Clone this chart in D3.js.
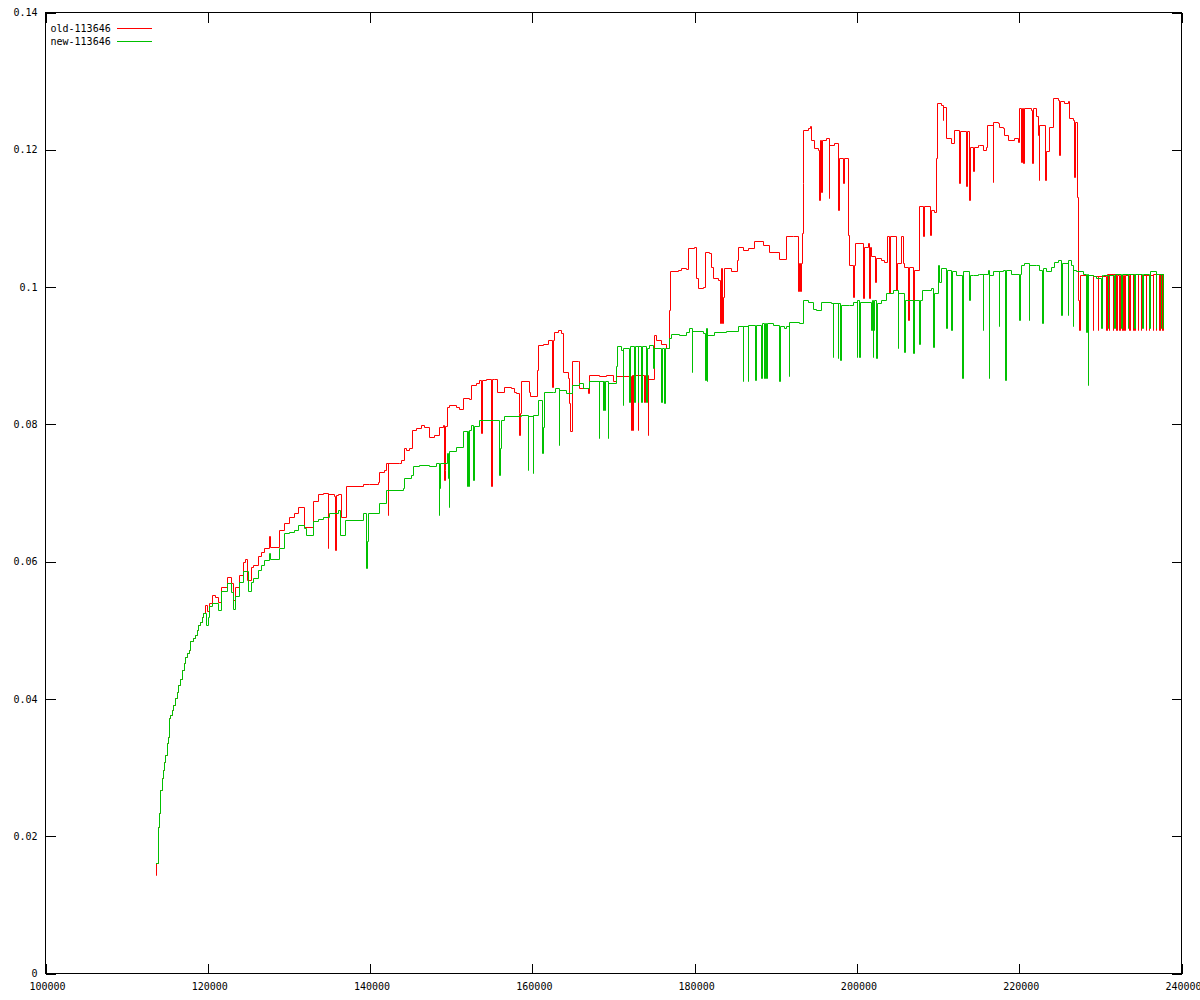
<!DOCTYPE html>
<html><head><meta charset="utf-8">
<script src="https://cdn.jsdelivr.net/npm/d3@7"></script>
<style>body{margin:0;background:#fff}svg{display:block}text{font-family:"DejaVu Sans Mono",monospace;font-size:10px;fill:#000}</style>
</head><body>
<svg id="c" width="1200" height="1000"></svg>
<script>
const seriesNames = ["old-113646", "new-113646"];
const seriesColors = ["#ff0000", "#00c000"];
const xTicks = [100000,120000,140000,160000,180000,200000,220000,240000];
const yTicks = [0,0.02,0.04,0.06,0.08,0.10,0.12,0.14];

const oldSeries = [
[113646,0.0143],[113700,0.0160],[113901,0.0213],[114024,0.0233],[114229,0.0267],[114394,0.0284],[114558,0.0296],[114681,0.0308],[114845,0.0318],[115010,0.0335],[115215,0.0344],[115297,0.0371],[115461,0.0376],[115626,0.0383],[115831,0.0391],[116036,0.0400],[116242,0.0410],[116447,0.0420],[116693,0.0429],[116899,0.0442],[117104,0.0451],[117310,0.0461],[117515,0.0466],[117720,0.0471],[117926,0.0483],[118213,0.0488],[118501,0.0493],[118706,0.0500],[118911,0.0507],[119117,0.0512],[119322,0.0519],
[119445,0.0524],[119774,0.0536],[119938,0.0527],[120267,0.0539],[120595,0.0551],[121006,0.0548],[121293,0.0541],[121704,0.0563],[122402,0.0577],[122936,0.0568],[123142,0.0544],[123429,0.0563],[123963,0.0580],[124456,0.0599],[124702,0.0603],[124907,0.0573],[125400,0.0592],[125606,0.0594],[126222,0.0607],[126633,0.0614],[127044,0.0619],[127577,0.0636],[127741,0.0621],[128891,0.0646],[129508,0.0655],[130123,0.0665],[130739,0.0670],[131150,0.0679],[131971,0.0650],[132998,0.0687],[133614,0.0698],[134230,0.0699],[134846,0.0619],[134929,0.0698],[135668,0.0695],[135791,0.0616],[135873,0.0696],[136079,0.0698],[136489,0.0665],[137105,0.0709],[139159,0.0713],[139978,0.0713],[141005,0.0716],[141210,0.0730],[141826,0.0733],[142032,0.0743],[142237,0.0667],[142319,0.0743],[143674,0.0743],[143880,0.0747],[144290,0.0765],[144496,0.0762],[144906,0.0765],[145235,0.0791],[145728,0.0794],[146344,0.0798],[146755,0.0796],[147371,0.0781],[147987,0.0784],[148603,0.0796],[149013,0.0798],[149137,0.0718],[149260,0.0733],[149342,0.0797],[149506,0.0825],[149835,0.0828],[150656,0.0824],[151067,0.0821],[151478,0.0837],[152299,0.0836],[152504,0.0857],[153120,0.0859],[153531,0.0864],[153736,0.0786],[153818,0.0864],[154352,0.0866],[154969,0.0709],[155051,0.0866],[155379,0.0865],[155667,0.0847],[156611,0.0854],[157433,0.0852],[157843,0.0847],[158049,0.0845],[158377,0.0816],[158460,0.0784],[158542,0.0816],[158665,0.0862],[159609,0.0847],[159774,0.0840],[160595,0.0879],[160718,0.0915],[161334,0.0917],[161950,0.0922],[162484,0.0854],[162566,0.0922],[162772,0.0934],[163183,0.0937],[163593,0.0932],[163799,0.0876],[164415,0.0867],[164620,0.0830],[164743,0.0789],[164907,0.0891],[165646,0.0892],[165852,0.0852],[166879,0.0845],[167002,0.0871],[168314,0.0870],[169135,0.0871],[169957,0.0862],[170368,0.0869],[172216,0.0791],[172298,0.0871],[172421,0.0791],[172503,0.0871],[173037,0.0791],[173119,0.0871],[173858,0.0832],[173940,0.0871],[174269,0.0784],[174351,0.0866],[175091,0.0930],[175296,0.0922],[175912,0.0917],[176528,0.0910],[176939,0.0966],[177062,0.1022],[177965,0.1024],[178376,0.1027],[178992,0.1025],[179198,0.1056],[180019,0.1057],[180224,0.1012],[180430,0.0998],[181046,0.1000],[181374,0.1051],[181867,0.1049],[182072,0.1029],[182278,0.1012],[182894,0.1010],[183181,0.0947],[183304,0.1027],[183428,0.0947],[183551,0.0985],[183715,0.1027],[184537,0.1022],[185235,0.1039],[185358,0.1057],[185974,0.1053],[186590,0.1056],[187412,0.1066],[188438,0.1061],[189260,0.1051],[190492,0.1040],[191311,0.1073],[192133,0.1074],[192749,0.0993],[192872,0.1034],[193036,0.0993],[193118,0.1034],[193241,0.1078],[193365,0.1151],[193447,0.1228],[193981,0.1231],[194268,0.1234],[194433,0.1214],[194802,0.1202],[195213,0.1199],[195418,0.1126],[195500,0.1214],[195623,0.1138],[195706,0.1214],[196240,0.1216],[196568,0.1129],[196651,0.1206],[197267,0.1209],[197677,0.1112],[197800,0.1187],[198293,0.1151],[198417,0.1187],[198909,0.1075],[199115,0.1032],[199525,0.0985],[199649,0.1032],[199854,0.1063],[200758,0.0983],[200881,0.1058],[201374,0.1064],[201579,0.0983],[201702,0.1058],[201784,0.1044],[202318,0.1007],[202441,0.1041],[203016,0.1038],[203427,0.1036],[203715,0.1073],[203961,0.0990],[204084,0.1074],[204865,0.0995],[204988,0.1034],[205481,0.1073],[205686,0.1034],[205891,0.1029],[206302,0.0951],[206507,0.1029],[206999,0.0951],[207123,0.1024],[207657,0.1117],[208150,0.1073],[208273,0.1117],[209054,0.1075],[209177,0.1112],[209588,0.1109],[209793,0.1187],[209875,0.1267],[210409,0.1265],[210614,0.1243],[210696,0.1262],[211025,0.1216],[211641,0.1209],[212051,0.1228],[212586,0.1151],[212709,0.1226],[213489,0.1146],[213612,0.1226],[213900,0.1126],[214023,0.1204],[214311,0.1168],[214434,0.1204],[214927,0.1206],[215131,0.1206],[215542,0.1199],[215952,0.1204],[216075,0.1236],[216774,0.1153],[216856,0.1240],[217390,0.1238],[217595,0.1233],[218006,0.1231],[218211,0.1221],[218622,0.1214],[219443,0.1216],[219854,0.1211],[220059,0.1260],[220265,0.1182],[220347,0.1260],[220552,0.1180],[220634,0.1260],[221497,0.1257],[221620,0.1180],[221702,0.1260],[222113,0.1248],[222318,0.1221],[222441,0.1155],[222523,0.1236],[223263,0.1155],[223345,0.1197],[223674,0.1233],[224166,0.1274],[224782,0.1272],[224988,0.1192],[225070,0.1270],[225604,0.1267],[226015,0.1270],[226220,0.1245],[226631,0.1243],[226836,0.1160],[226918,0.1240],[227123,0.1131],[227246,0.0981],[227369,0.0937],[227493,0.1017],
[228273,0.0937],[228355,0.1017],[229095,0.0937],[229177,0.1015],[229711,0.0937],[229793,0.1015],[230737,0.0937],[230819,0.1019],[231066,0.0937],[231148,0.1019],[231559,0.0937],[231641,0.1019],[231970,0.0937],[232052,0.1017],[232380,0.0937],[232462,0.1017],[232709,0.0937],[232791,0.1017],[232997,0.0937],[233079,0.1017],[233613,0.0937],[233695,0.1019],[234023,0.0937],[234105,0.1019],[234229,0.0937],[234311,0.1019],[234640,0.0937],[234722,0.1019],[235050,0.0937],[235132,0.1017],[235666,0.0937],[235748,0.1017],[235995,0.0937],[236077,0.1017],[236488,0.0937],[236570,0.1019],[236898,0.0937],[236980,0.1019],[237309,0.0937],[237391,0.1019],[237720,0.0937],[237800,0.1014],[237842,0.1015]
];

const newSeries = [
[113646,0.0160],[113901,0.0213],[114024,0.0233],[114229,0.0267],[114394,0.0284],[114558,0.0296],[114681,0.0308],[114845,0.0318],[115010,0.0335],[115215,0.0344],[115297,0.0371],[115461,0.0376],[115626,0.0383],[115831,0.0391],[116036,0.0400],[116242,0.0410],[116447,0.0420],[116693,0.0429],[116899,0.0442],[117104,0.0451],[117310,0.0461],[117515,0.0466],[117720,0.0471],[117926,0.0483],[118213,0.0488],[118501,0.0493],[118706,0.0500],[118911,0.0507],[119117,0.0512],[119322,0.0519],
[119445,0.0524],[119856,0.0507],[120061,0.0519],[120267,0.0534],[120595,0.0539],[121293,0.0529],[121704,0.0556],[122402,0.0568],[122936,0.0555],[123142,0.0531],[123429,0.0549],[123963,0.0570],[124456,0.0585],[124989,0.0556],[125400,0.0570],[125606,0.0575],[126222,0.0587],[126633,0.0595],[127044,0.0602],[127577,0.0612],[127741,0.0603],[128891,0.0619],[129508,0.0641],[130123,0.0643],[130739,0.0646],[131150,0.0653],[131883,0.0648],[132163,0.0638],[132998,0.0658],[133614,0.0662],[134230,0.0665],[135052,0.0670],[136079,0.0675],[136366,0.0638],[137023,0.0660],[139159,0.0670],[139570,0.0590],[139652,0.0629],[139816,0.0670],
[141128,0.0684],[142032,0.0704],[144085,0.0706],[144290,0.0721],[145112,0.0726],[145317,0.0738],[146139,0.0740],[147371,0.0738],[148192,0.0743],[148521,0.0667],[148603,0.0706],[148685,0.0743],[149506,0.0757],[149629,0.0721],[149753,0.0679],[149835,0.0760],[150656,0.0767],[151560,0.0789],[151971,0.0709],[152053,0.0789],[152135,0.0709],[152217,0.0791],[152504,0.0798],[152792,0.0718],[152874,0.0797],[153531,0.0806],[155995,0.0726],[156077,0.0765],[156200,0.0806],[156611,0.0811],[158665,0.0813],[159486,0.0733],[159568,0.0811],[160102,0.0728],[160184,0.0813],[160718,0.0835],[161252,0.0757],[161334,0.0795],[161539,0.0846],[162566,0.0847],[162895,0.0852],[163306,0.0769],[163388,0.0849],[164210,0.0845],[164948,0.0857],[165852,0.0859],[166263,0.0852],[167084,0.0862],[168234,0.0779],[168316,0.0862],[168725,0.0820],[168807,0.0862],[168930,0.0820],[169012,0.0862],[169341,0.0779],[169423,0.0859],[170368,0.0884],[170450,0.0913],[170984,0.0908],[171189,0.0828],[171271,0.0910],[172010,0.0832],[172093,0.0913],[172626,0.0832],[172708,0.0913],[173037,0.0832],[173119,0.0913],[173448,0.0832],[173530,0.0913],[174064,0.0832],[174146,0.0910],[174475,0.0915],[174886,0.0881],[175091,0.0910],[175912,0.0832],[175994,0.0910],[176323,0.0831],[176405,0.0910],[176939,0.0925],[177144,0.0931],[178171,0.0930],[178992,0.0934],[179403,0.0939],[179691,0.0876],[179773,0.0936],[181046,0.0932],[181374,0.0864],[181456,0.0939],[181538,0.0862],[181621,0.0930],[182483,0.0934],[183921,0.0935],[185358,0.0942],[185974,0.0862],[186056,0.0942],[186590,0.0862],[186672,0.0944],[187535,0.0864],[187617,0.0944],[188233,0.0867],[188315,0.0947],[188644,0.0867],[188726,0.0947],[188849,0.0867],[188931,0.0947],[189670,0.0944],[190492,0.0862],[190574,0.0942],[191108,0.0939],[191311,0.0943],[191640,0.0869],[191722,0.0949],[192954,0.0947],[193447,0.0981],[193981,0.0978],[194597,0.0968],[195008,0.0966],[195624,0.0978],[196856,0.0976],[197061,0.0898],[197143,0.0976],[197677,0.0896],[197759,0.0976],[198006,0.0893],[198088,0.0973],[199115,0.0973],[199525,0.0978],[200018,0.0898],[200100,0.0981],[200347,0.0898],[200429,0.0978],[201784,0.0937],[201866,0.0981],[201990,0.0898],[202072,0.0937],[202154,0.0981],[202400,0.0896],[202482,0.0976],[203016,0.0981],[203632,0.0990],[204454,0.0995],[205070,0.0910],[205152,0.0990],[205891,0.0905],[205973,0.0981],[206999,0.0903],[207081,0.0981],[207739,0.0917],[207821,0.0981],[208068,0.0995],[209177,0.0998],[209465,0.0912],[209547,0.0990],[209998,0.1032],[210203,0.1007],[210409,0.1027],[211025,0.0939],[211107,0.1024],[211641,0.0937],[211723,0.1022],[212257,0.1017],[212996,0.0867],[213078,0.1022],[213900,0.0981],[213982,0.1017],[214311,0.1017],[214927,0.1019],
[215131,0.1019],[215542,0.0937],[215624,0.1019],[216157,0.1024],[216280,0.0867],[216362,0.1017],[216774,0.1022],[217513,0.0942],[217595,0.1022],[218006,0.1024],[218334,0.0864],[218416,0.1024],[219033,0.1019],[220059,0.0951],[220141,0.1019],[220265,0.1032],[220675,0.1034],[221209,0.0951],[221291,0.1032],[222113,0.1032],[222523,0.1024],[222852,0.0947],[222934,0.1027],[223345,0.1022],[223961,0.1029],[224372,0.1036],[224782,0.1039],[225193,0.0959],[225275,0.1034],[226015,0.0959],[226097,0.1039],[226425,0.1032],[226631,0.0942],[226713,0.1024],[227041,0.1022],[227863,0.1019],[228273,0.0934],[228355,0.1019],[228479,0.0857],[228561,0.1017],[229094,0.1015],[229505,0.1012],[230122,0.0939],[230204,0.1017],[230327,0.1017],[230943,0.0939],[231025,0.1017],[231764,0.0939],[231846,0.1019],[232586,0.0939],[232668,0.1019],[233407,0.0939],[233489,0.1019],[234229,0.0939],[234311,0.1019],[235255,0.0939],[235337,0.1019],[236077,0.0939],[236159,0.1022],[236898,0.0939],[236980,0.1019],[237514,0.0939],[237596,0.1019],[237760,0.0939],[237842,0.1019]
];

const svg = d3.select("#c");
const L = 45.5, R = 1181.5, T = 12.5, B = 973.5;
const x = d3.scaleLinear().domain([100000, 240000]).range([L, R]);
const y = d3.scaleLinear().domain([0, 0.14]).range([B, T]);
const fmtY = d => String(+d.toFixed(2));
const snap = v => Math.floor(v) + 0.5;

svg.append("rect").attr("width",1200).attr("height",1000).attr("fill","#fff");

const line = d3.line().x(d => snap(x(d[0]))).y(d => snap(y(d[1]))).curve(d3.curveStepAfter);
[oldSeries, newSeries].forEach((s, i) => {
  svg.append("path").datum(s).attr("d", line).attr("fill","none")
    .attr("stroke", seriesColors[i]).attr("stroke-width",1)
    .attr("stroke-linejoin","miter").attr("stroke-linecap","square");
});

function styleAxis(g){
  g.select(".domain").remove();
  g.selectAll("line").attr("stroke","#000").attr("shape-rendering","crispEdges");
  g.selectAll("text").attr("fill","#000");
}
svg.append("g").attr("transform",`translate(${L},0)`)
  .call(d3.axisLeft(y).tickValues(yTicks).tickFormat(fmtY).tickSizeInner(-10).tickSizeOuter(0).tickPadding(8))
  .attr("font-family",null).attr("font-size",null).call(styleAxis);
svg.append("g").attr("transform",`translate(${R},0)`)
  .call(d3.axisRight(y).tickValues(yTicks).tickFormat("").tickSizeInner(-10).tickSizeOuter(0))
  .call(styleAxis);
svg.append("g").attr("transform",`translate(0,${B})`)
  .call(d3.axisBottom(x).tickValues(xTicks).tickFormat(d3.format("d")).tickSizeInner(-10).tickSizeOuter(0).tickPadding(9))
  .attr("font-family",null).attr("font-size",null).call(styleAxis)
  .selectAll("text").attr("dx","1.5");
svg.append("g").attr("transform",`translate(0,${T})`)
  .call(d3.axisTop(x).tickValues(xTicks).tickFormat("").tickSizeInner(-10).tickSizeOuter(0))
  .call(styleAxis);

svg.append("rect").attr("x",L).attr("y",T).attr("width",R-L).attr("height",B-T)
  .attr("fill","none").attr("stroke","#000").attr("shape-rendering","crispEdges");

const leg = svg.append("g");
seriesNames.forEach((n, i) => {
  const yy = 28.5 + i*13;
  leg.append("text").attr("x",50.5).attr("y",yy).attr("dy","0.35em").text(n);
  leg.append("line").attr("x1",117).attr("x2",152).attr("y1",yy).attr("y2",yy)
    .attr("stroke",seriesColors[i]).attr("shape-rendering","crispEdges");
});
</script>
</body></html>
